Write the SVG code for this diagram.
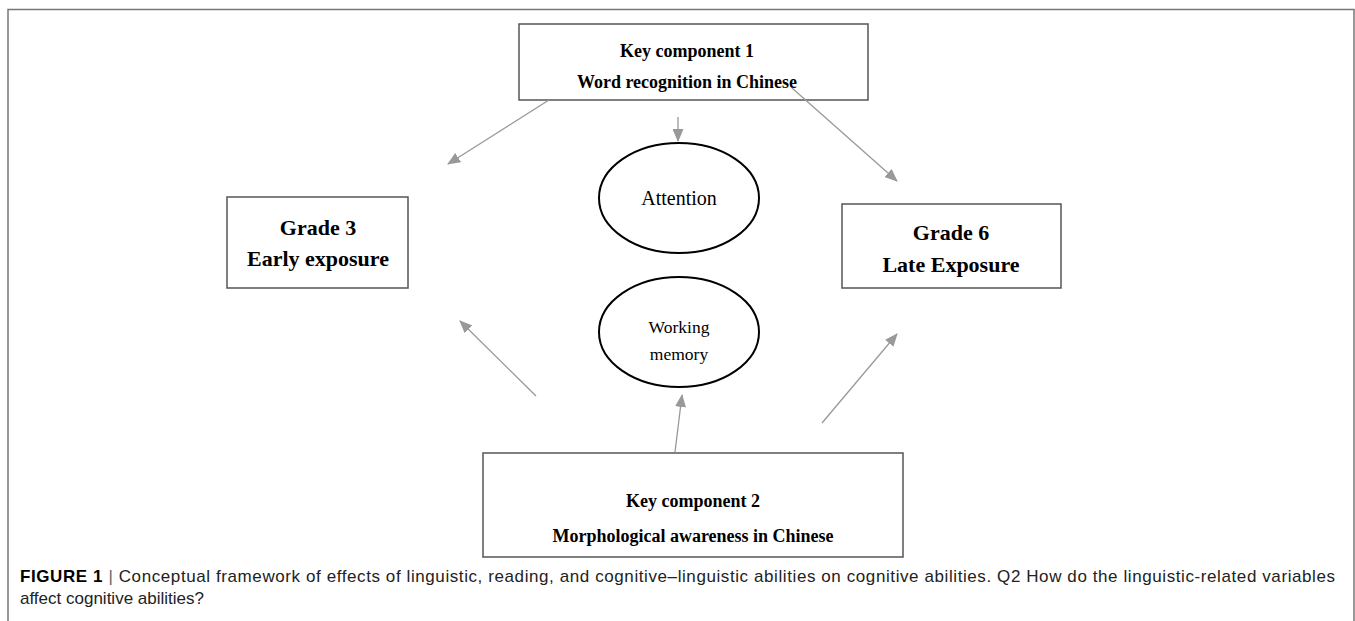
<svg xmlns="http://www.w3.org/2000/svg" width="1355" height="621" viewBox="0 0 1355 621">
<defs>
<style>
.box{fill:#fff;stroke:#555;stroke-width:1.5}
.ell{fill:#fff;stroke:#000;stroke-width:2}
.bt{font-family:"Liberation Serif","Times New Roman",serif;font-weight:bold;fill:#000;text-anchor:middle}
.rt{font-family:"Liberation Serif","Times New Roman",serif;fill:#000;text-anchor:middle}
.conn line{stroke:#999;stroke-width:1.3;fill:none;marker-end:url(#ah)}
.cap{font-family:"Liberation Sans",Arial,sans-serif;font-size:17px;fill:#222}
</style>
<marker id="ah" markerUnits="userSpaceOnUse" markerWidth="13" markerHeight="11" refX="12" refY="5.5" orient="auto">
<path d="M0,0 L13,5.5 L0,11 Z" fill="#999"/>
</marker>
</defs>
<rect width="1355" height="621" fill="#fff"/>
<g id="frame" fill="none" stroke="#777" stroke-width="1.5">
<path d="M8,621 L8,9.5 L1354,9.5 L1354,621"/>
</g>
<g id="node-key1">
<rect class="box" x="519" y="24" width="349" height="76"/>
<text class="bt" x="687" y="57" font-size="18">Key component 1</text>
<text class="bt" x="687" y="88" font-size="18">Word recognition in Chinese</text>
</g>
<g id="node-grade3">
<rect class="box" x="227" y="197" width="181" height="91"/>
<text class="bt" x="318" y="235" font-size="22">Grade 3</text>
<text class="bt" x="318" y="266" font-size="22">Early exposure</text>
</g>
<g id="node-grade6">
<rect class="box" x="842" y="204" width="219" height="84"/>
<text class="bt" x="951" y="240" font-size="22">Grade 6</text>
<text class="bt" x="951" y="272" font-size="22">Late Exposure</text>
</g>
<g id="node-attention">
<ellipse class="ell" cx="679" cy="198" rx="80" ry="55"/>
<text class="rt" x="679" y="205" font-size="20">Attention</text>
</g>
<g id="node-wm">
<ellipse class="ell" cx="679" cy="332" rx="80" ry="55"/>
<text class="rt" x="679" y="333" font-size="17.5">Working</text>
<text class="rt" x="679" y="360" font-size="17.5">memory</text>
</g>
<g id="node-key2">
<rect class="box" x="483" y="453" width="420" height="104"/>
<text class="bt" x="693" y="507" font-size="18">Key component 2</text>
<text class="bt" x="693" y="542" font-size="18">Morphological awareness in Chinese</text>
</g>
<g id="connectors" class="conn">
<line x1="549" y1="100" x2="448" y2="164"/>
<line x1="678" y1="117" x2="678" y2="141"/>
<line x1="792" y1="88" x2="897" y2="181"/>
<line x1="536" y1="396" x2="460" y2="321"/>
<line x1="822" y1="423" x2="897" y2="334"/>
<line x1="675" y1="452" x2="682" y2="395"/>
</g>
<g id="caption">
<text class="cap" x="20" y="582" textLength="1315" lengthAdjust="spacing"><tspan font-weight="bold" fill="#000">FIGURE 1</tspan> <tspan fill="#666">|</tspan> Conceptual framework of effects of linguistic, reading, and cognitive–linguistic abilities on cognitive abilities. Q2 How do the linguistic-related variables</text>
<text class="cap" x="20" y="604">affect cognitive abilities?</text>
</g>
</svg>
